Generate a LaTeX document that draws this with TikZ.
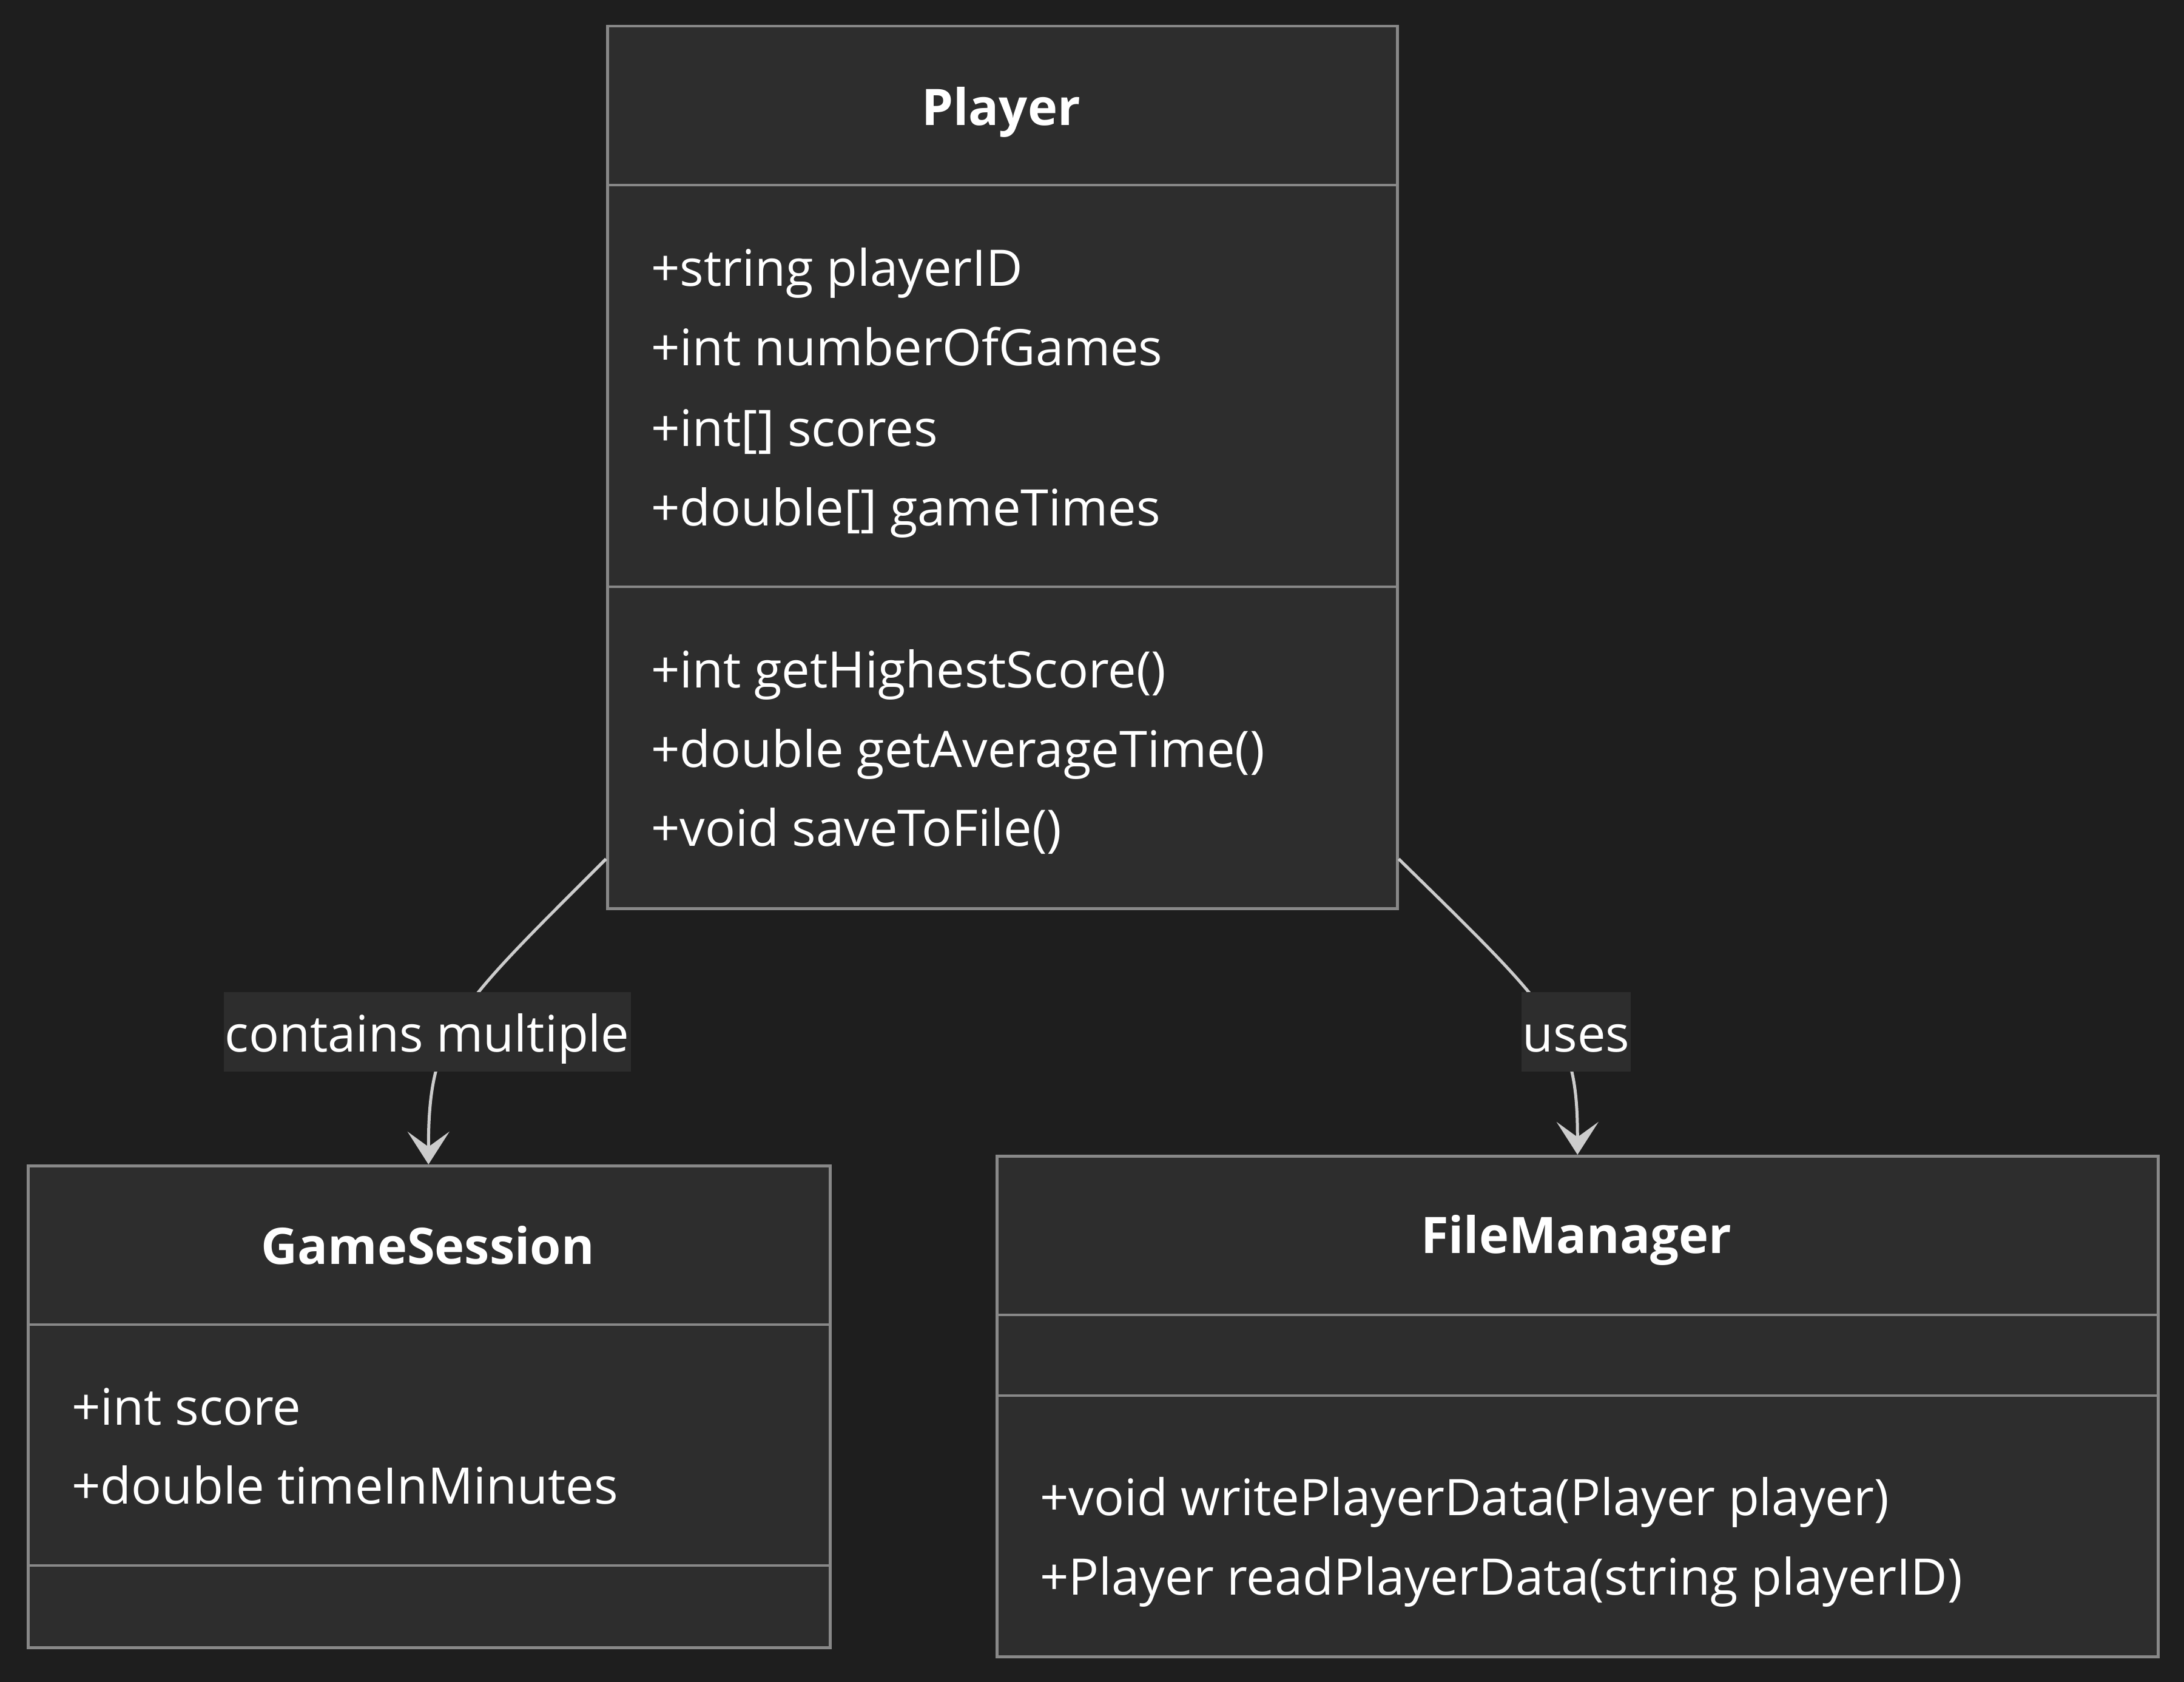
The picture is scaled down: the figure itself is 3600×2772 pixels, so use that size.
\documentclass[tikz,border=0pt]{standalone}
\usepackage{fontspec}
\setmainfont{Open Sans}
\usetikzlibrary{arrows.meta,calc}
\definecolor{bgc}{HTML}{1E1E1E}
\definecolor{boxfill}{HTML}{2D2D2D}
\definecolor{boxline}{HTML}{888888}
\definecolor{edgec}{HTML}{CCCCCC}
\begin{document}
\begin{tikzpicture}[x=1pt,y=-1pt,
  classbox/.style={draw=boxline, fill=boxfill, line width=4.5pt, rectangle, anchor=north west, inner sep=0pt},
  divline/.style={draw=boxline, line width=4.5pt},
  member/.style={anchor=base west, inner sep=0pt, text=white, font=\fontsize{83}{100}\selectfont},
  ctitle/.style={anchor=base, inner sep=0pt, text=white, font=\fontsize{83}{100}\selectfont\bfseries},
  edge/.style={draw=edgec, line width=5pt, -{Stealth[length=54pt,width=69pt,inset=25pt]}},
  lbl/.style={fill=boxfill, text=white, inner xsep=2pt, inner ysep=0pt, text height=88pt, text depth=22pt, minimum height=131pt, font=\fontsize{83}{100}\selectfont}
]
\fill[bgc] (0,0) rectangle (3600,2772);
\useasboundingbox (0,0) rectangle (3600,2772);

% Player
\node[classbox, minimum width=1302pt, minimum height=1454pt] (player) at (999,41) {};
\draw[divline] ($(player.north west)+(0,264)$) -- ($(player.north east)+(0,264)$);
\draw[divline] ($(player.north west)+(0,926)$) -- ($(player.north east)+(0,926)$);
\node[ctitle] (pt) at (1650,207) {Player};
\node[member] (pa1) at (1073,471) {+string playerID};
\node[member] (pa2) at (1073,602) {+int numberOfGames};
\node[member] (pa3) at (1073,735) {+int[] scores};
\node[member] (pa4) at (1073,866) {+double[] gameTimes};
\node[member] (pm1) at (1073,1133) {+int getHighestScore()};
\node[member] (pm2) at (1073,1264) {+double getAverageTime()};
\node[member] (pm3) at (1073,1394) {+void saveToFile()};

% GameSession
\node[classbox, minimum width=1322pt, minimum height=794pt] (gs) at (44,1919) {};
\draw[divline] ($(gs.north west)+(0,264)$) -- ($(gs.north east)+(0,264)$);
\draw[divline] ($(gs.north west)+(0,661)$) -- ($(gs.north east)+(0,661)$);
\node[ctitle] (gst) at (705,2083) {GameSession};
\node[member] (gsa1) at (118,2348) {+int score};
\node[member] (gsa2) at (118,2478) {+double timeInMinutes};

% FileManager
\node[classbox, minimum width=1914pt, minimum height=825pt] (fm) at (1641,1903) {};
\draw[divline] ($(fm.north west)+(0,264)$) -- ($(fm.north east)+(0,264)$);
\draw[divline] ($(fm.north west)+(0,397)$) -- ($(fm.north east)+(0,397)$);
\node[ctitle] (fmt) at (2598,2065) {FileManager};
\node[member] (fmm1) at (1714,2497) {+void writePlayerData(Player player)};
\node[member] (fmm2) at (1714,2628) {+Player readPlayerData(string playerID)};

% edges
\coordinate (pl) at ($(player.south west)+(0,-84)$);
\coordinate (pr) at ($(player.south east)+(0,-84)$);
\coordinate (gstop) at ($(gs.north)+(-1,0)$);
\draw[edge] (pl) .. controls +(-250,250) and +(0,-219) .. (gstop);
\draw[edge] (pr) .. controls +(260,255) and +(0,-203) .. (fm.north);

\node[lbl] (l1) at (704,1700) {contains multiple};
\node[lbl] (l2) at (2598,1700) {uses};
\end{tikzpicture}
\end{document}
